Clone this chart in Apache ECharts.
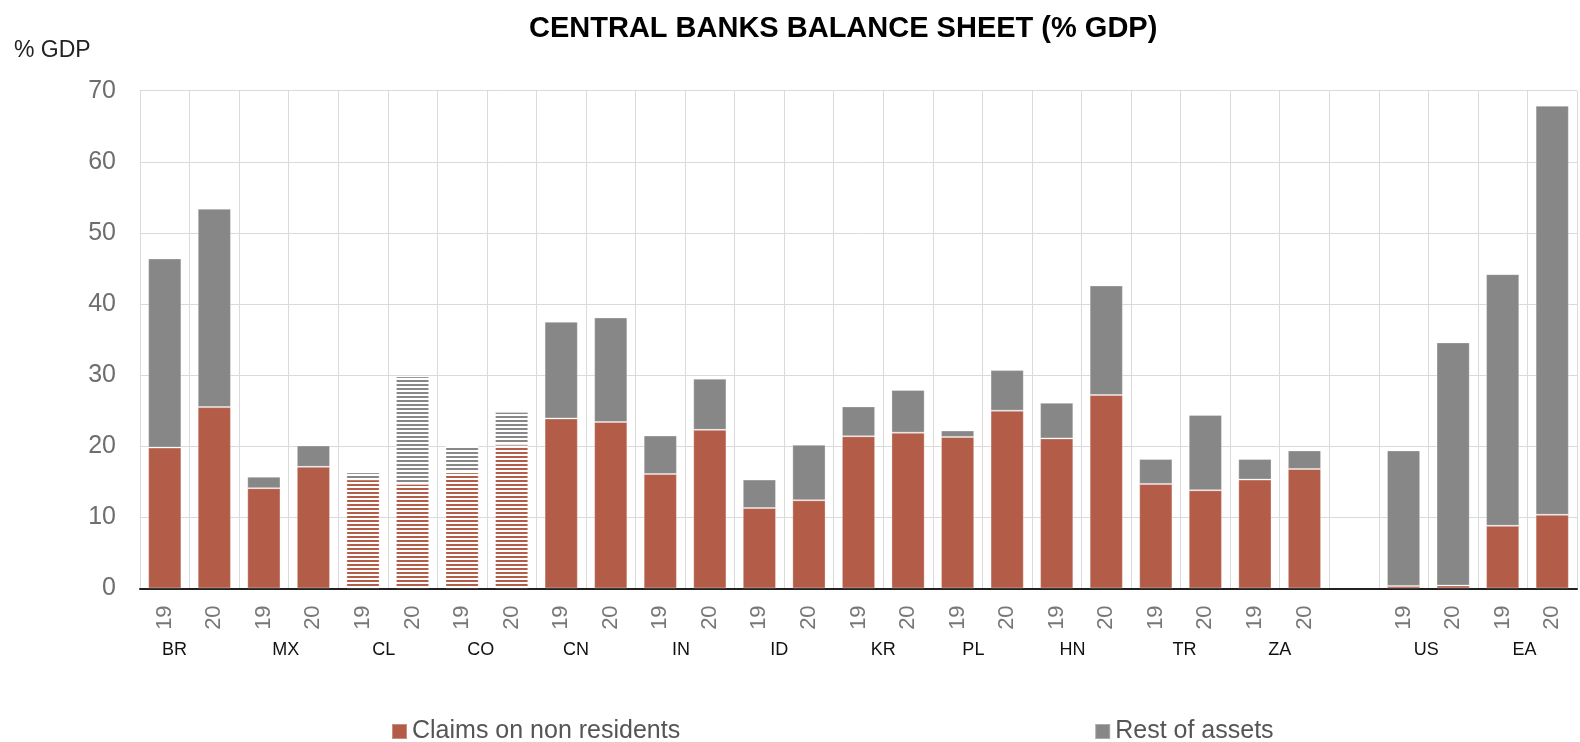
<!DOCTYPE html>
<html>
<head>
<meta charset="utf-8">
<script src="https://cdn.jsdelivr.net/npm/echarts@6/dist/echarts.min.js"></script>
<style>
html,body{margin:0;padding:0;background:#fff;}
#chart{width:1580px;height:742px;}
</style>
</head>
<body>
<div id="chart"></div>
<script>
// ---- data ----
const categories = ['BR 19','BR 20','MX 19','MX 20','CL 19','CL 20','CO 19','CO 20','CN 19','CN 20','IN 19','IN 20','ID 19','ID 20','KR 19','KR 20','PL 19','PL 20','HN 19','HN 20','TR 19','TR 20','ZA 19','ZA 20','','US 19','US 20','EA 19','EA 20'];
const claimsOnNonResidents = [19.8,25.5,14.1,17.1,15.3,14.7,16.3,20.2,23.9,23.4,16.1,22.3,11.3,12.4,21.4,21.9,21.3,25.0,21.1,27.2,14.7,13.8,15.3,16.8,null,0.35,0.4,8.8,10.35];
const restOfAssets = [26.6,27.9,1.6,3.0,1.0,15.1,3.8,4.6,13.6,14.7,5.4,7.2,4.0,7.8,4.2,6.0,0.9,5.7,5.0,15.4,3.5,10.6,2.9,2.6,null,19.05,34.2,35.4,57.55];
const hatchedCategories = ['CL 19','CL 20','CO 19','CO 20'];
const yTicks = {min: 0, max: 70, interval: 10};
const seriesNames = ['Claims on non residents','Rest of assets'];
const titleText = 'CENTRAL BANKS BALANCE SHEET (% GDP)';
const yUnit = '% GDP';

// ---- styles ----
const RED = '#b35d48';
const GREY = '#878787';
const FONT = "'Liberation Sans', Arial, Helvetica, sans-serif";
const labelShift = {BR:-15, CN:-10, PL:-9, HN:-9, CO:-6, TR:4, ID:-5, IN:-4, CL:-4, MX:-3, US:-2, EA:-3};

function stripes(color){
  const c = document.createElement('canvas');
  c.width = 4; c.height = 4;
  const ctx = c.getContext('2d');
  ctx.fillStyle = '#ffffff';
  ctx.fillRect(0,0,4,4);
  ctx.fillStyle = color;
  ctx.fillRect(0,0,4,2);
  return {image: c, repeat: 'repeat'};
}

function build(values, color){
  const pat = stripes(color);
  return values.map((v,i)=>{
    if (hatchedCategories.indexOf(categories[i]) >= 0) {
      return {value: v, itemStyle: {color: pat}};
    }
    return v;
  });
}

// country labels on boundaries between pair of bars
const countryAxis = new Array(categories.length + 1).fill('');
categories.forEach((c,i)=>{
  const cc = c.split(' ')[0];
  const next = categories[i+1];
  if (cc && next && next.split(' ')[0] === cc) countryAxis[i+1] = cc;
});

const rich = {};
Object.keys(labelShift).forEach(k=>{
  const s = labelShift[k];
  rich[k] = {fontSize: 18, fontFamily: FONT, color: '#111',
    padding: s < 0 ? [0, -2*s, 0, 0] : [0, 0, 0, 2*s]};
});

const chart = echarts.init(document.getElementById('chart'), null, {renderer:'canvas'});
chart.setOption({
  animation: false,
  backgroundColor: '#fff',
  title: [
    {text: titleText, left: 524, top: 9,
     textStyle: {fontFamily: FONT, fontSize: 29, fontWeight: 'bold', color: '#000'}},
    {text: yUnit, left: 9, top: 34,
     textStyle: {fontFamily: FONT, fontSize: 23, fontWeight: 'normal', color: '#222'}}
  ],
  legend: {
    data: seriesNames,
    left: 386, top: 714,
    icon: 'rect', itemWidth: 15, itemHeight: 15, itemGap: 414,
    textStyle: {fontFamily: FONT, fontSize: 25, color: '#555'}
  },
  grid: {left: 140, right: 0, top: 90.7, bottom: 153.6, containLabel: false},
  xAxis: [
    {
      type: 'category', data: categories, position: 'bottom',
      axisLine: {lineStyle: {color: '#222', width: 2}},
      axisTick: {show: false},
      splitLine: {show: true, interval: 0, lineStyle: {color: '#dadada', width: 1}},
      axisLabel: {interval: 0, rotate: 90, margin: 17, fontFamily: FONT, fontSize: 22, color: '#777',
        formatter: v => (v.split(' ')[1] || '')}
    },
    {
      type: 'category', data: countryAxis, position: 'bottom', boundaryGap: false,
      axisLine: {show: false}, axisTick: {show: false}, splitLine: {show: false},
      axisLabel: {interval: 0, margin: 53, fontFamily: FONT, fontSize: 18, color: '#111',
        formatter: v => (v ? (labelShift[v] !== undefined ? '{' + v + '|' + v + '}' : v) : ''),
        rich: rich}
    }
  ],
  yAxis: {
    type: 'value', min: yTicks.min, max: yTicks.max, interval: yTicks.interval,
    axisLine: {show: false}, axisTick: {show: false},
    splitLine: {lineStyle: {color: '#dadada', width: 1}},
    axisLabel: {margin: 24, fontFamily: FONT, fontSize: 25, color: '#6e6e6e'}
  },
  series: [
    {name: seriesNames[0], type: 'bar', stack: 'total', barWidth: '67%',
     itemStyle: {color: RED, borderColor: 'rgba(255,255,255,0.3)', borderWidth: 1},
     data: build(claimsOnNonResidents, RED)},
    {name: seriesNames[1], type: 'bar', stack: 'total', barWidth: '67%',
     itemStyle: {color: GREY, borderColor: 'rgba(255,255,255,0.3)', borderWidth: 1},
     data: build(restOfAssets, GREY)}
  ]
});
</script>
</body>
</html>
